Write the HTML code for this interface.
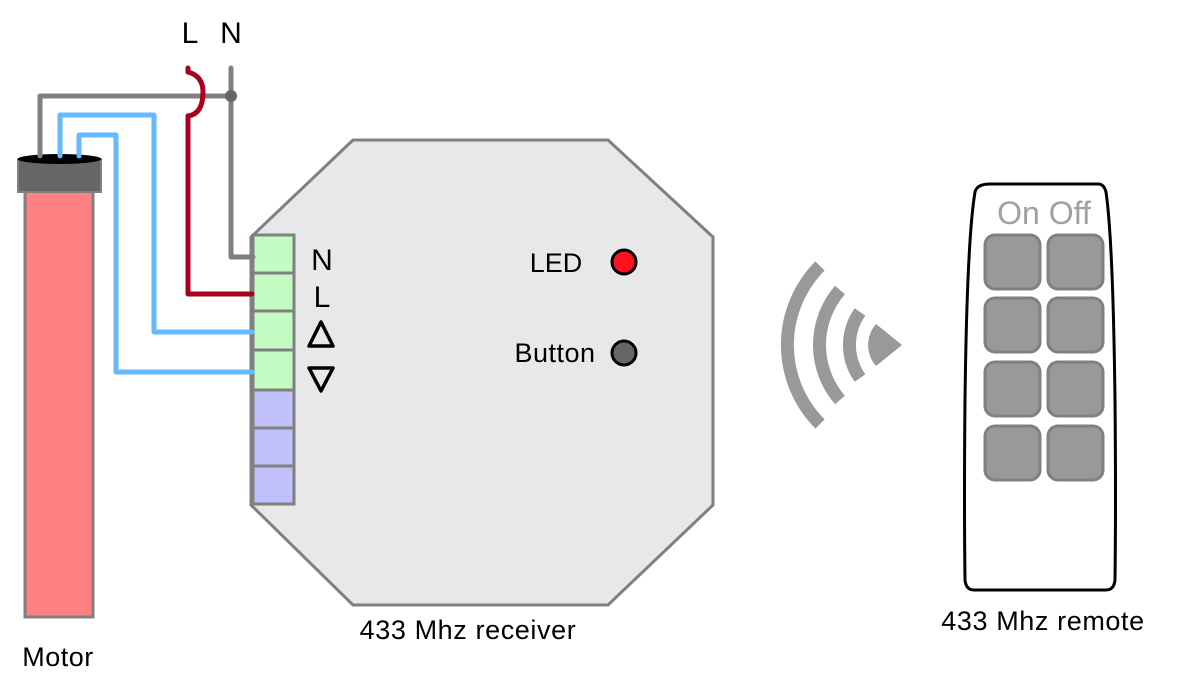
<!DOCTYPE html>
<html><head><meta charset="utf-8"><style>
html,body{margin:0;padding:0;background:#fff;}
svg{display:block;font-family:"Liberation Sans",Arial,sans-serif;}
</style></head><body>
<svg width="1184" height="682" viewBox="0 0 1184 682" xmlns="http://www.w3.org/2000/svg">
<!-- receiver -->
<polygon points="353,140 608,140 713,237 713,505 608,605 353,605 251,505 251,237" fill="#e8e8e8" stroke="#808080" stroke-width="3"/>
<g stroke="#808080" stroke-width="3">
<rect x="253" y="235" width="41" height="38" fill="#c2fcc2"/>
<rect x="253" y="273" width="41" height="38" fill="#c2fcc2"/>
<rect x="253" y="311" width="41" height="39" fill="#c2fcc2"/>
<rect x="253" y="350" width="41" height="40" fill="#c2fcc2"/>
<rect x="253" y="390" width="41" height="38" fill="#c0c0fc"/>
<rect x="253" y="428" width="41" height="38" fill="#c0c0fc"/>
<rect x="253" y="466" width="41" height="38" fill="#c0c0fc"/>
</g>
<text x="322" y="270" font-size="30" text-anchor="middle">N</text>
<text x="322" y="307" font-size="30" text-anchor="middle">L</text>
<polygon points="321,322 333,346 309,346" fill="none" stroke="#000" stroke-width="3.5" stroke-linejoin="round"/>
<polygon points="309,368 333,368 321,391" fill="none" stroke="#000" stroke-width="3.5" stroke-linejoin="round"/>
<text x="556" y="272" font-size="27" text-anchor="middle">LED</text>
<circle cx="624" cy="262" r="12" fill="#ff1020" stroke="#000" stroke-width="3"/>
<text x="555" y="362" font-size="27" text-anchor="middle" letter-spacing="0.5">Button</text>
<circle cx="624" cy="353" r="12" fill="#666" stroke="#000" stroke-width="3"/>
<text x="468" y="639" font-size="27" text-anchor="middle" letter-spacing="0.6">433 Mhz receiver</text>
<!-- motor -->
<rect x="25" y="185" width="68" height="432" fill="#ff8080" stroke="#808080" stroke-width="3"/>
<rect x="18" y="160" width="83" height="32" fill="#666" stroke="#808080" stroke-width="2"/>
<ellipse cx="59.5" cy="159" rx="42" ry="5" fill="#000"/>
<text x="58" y="666" font-size="27" text-anchor="middle" letter-spacing="0.5">Motor</text>
<!-- wires -->
<g fill="none" stroke-width="5" stroke-linecap="round" stroke-linejoin="round">
<path d="M40,156 V96 H231 M231,68 V257 H253" stroke="#808080"/>
<path d="M60,156 V115 H154 V332 H252" stroke="#66b8ff"/>
<path d="M79,156 V135 H116 V372 H252" stroke="#66b8ff"/>
<path d="M188,68 V72 Q203,76 203,92 Q203,114 188,116 V294 H252" stroke="#a80020"/>
</g>
<circle cx="231" cy="96" r="6" fill="#666"/>
<text x="190" y="43" font-size="30" text-anchor="middle">L</text>
<text x="231" y="43" font-size="30" text-anchor="middle">N</text>
<!-- waves -->
<g fill="none" stroke="#999" stroke-width="13">
<path d="M820,266 A112,112 0 0 0 820,424"/>
<path d="M840,290 A84,84 0 0 0 840,400"/>
<path d="M860,312 A57,57 0 0 0 860,378"/>
</g>
<path d="M902,345 L876,324 A32,32 0 0 0 876,366 Z" fill="#999"/>
<!-- remote -->
<path d="M990,184 H1098 Q1104,184 1106,192 Q1113,240 1115,400 Q1116,500 1115,580 Q1114,590 1106,590 H974 Q966,590 965,580 Q964,500 965,400 Q967,240 975,192 Q977,184 990,184 Z" fill="#fff" stroke="#000" stroke-width="3"/>
<text x="1044" y="224" font-size="32" fill="#a0a0a0" text-anchor="middle">On Off</text>
<g fill="#999" stroke="#808080" stroke-width="3">
<rect x="985" y="235" width="55" height="54" rx="10"/>
<rect x="1048" y="235" width="55" height="54" rx="10"/>
<rect x="985" y="298" width="55" height="54" rx="10"/>
<rect x="1048" y="298" width="55" height="54" rx="10"/>
<rect x="985" y="362" width="55" height="54" rx="10"/>
<rect x="1048" y="362" width="55" height="54" rx="10"/>
<rect x="985" y="426" width="55" height="54" rx="10"/>
<rect x="1048" y="426" width="55" height="54" rx="10"/>
</g>
<text x="1043" y="630" font-size="27" text-anchor="middle" letter-spacing="0.6">433 Mhz remote</text>
</svg>
</body></html>
